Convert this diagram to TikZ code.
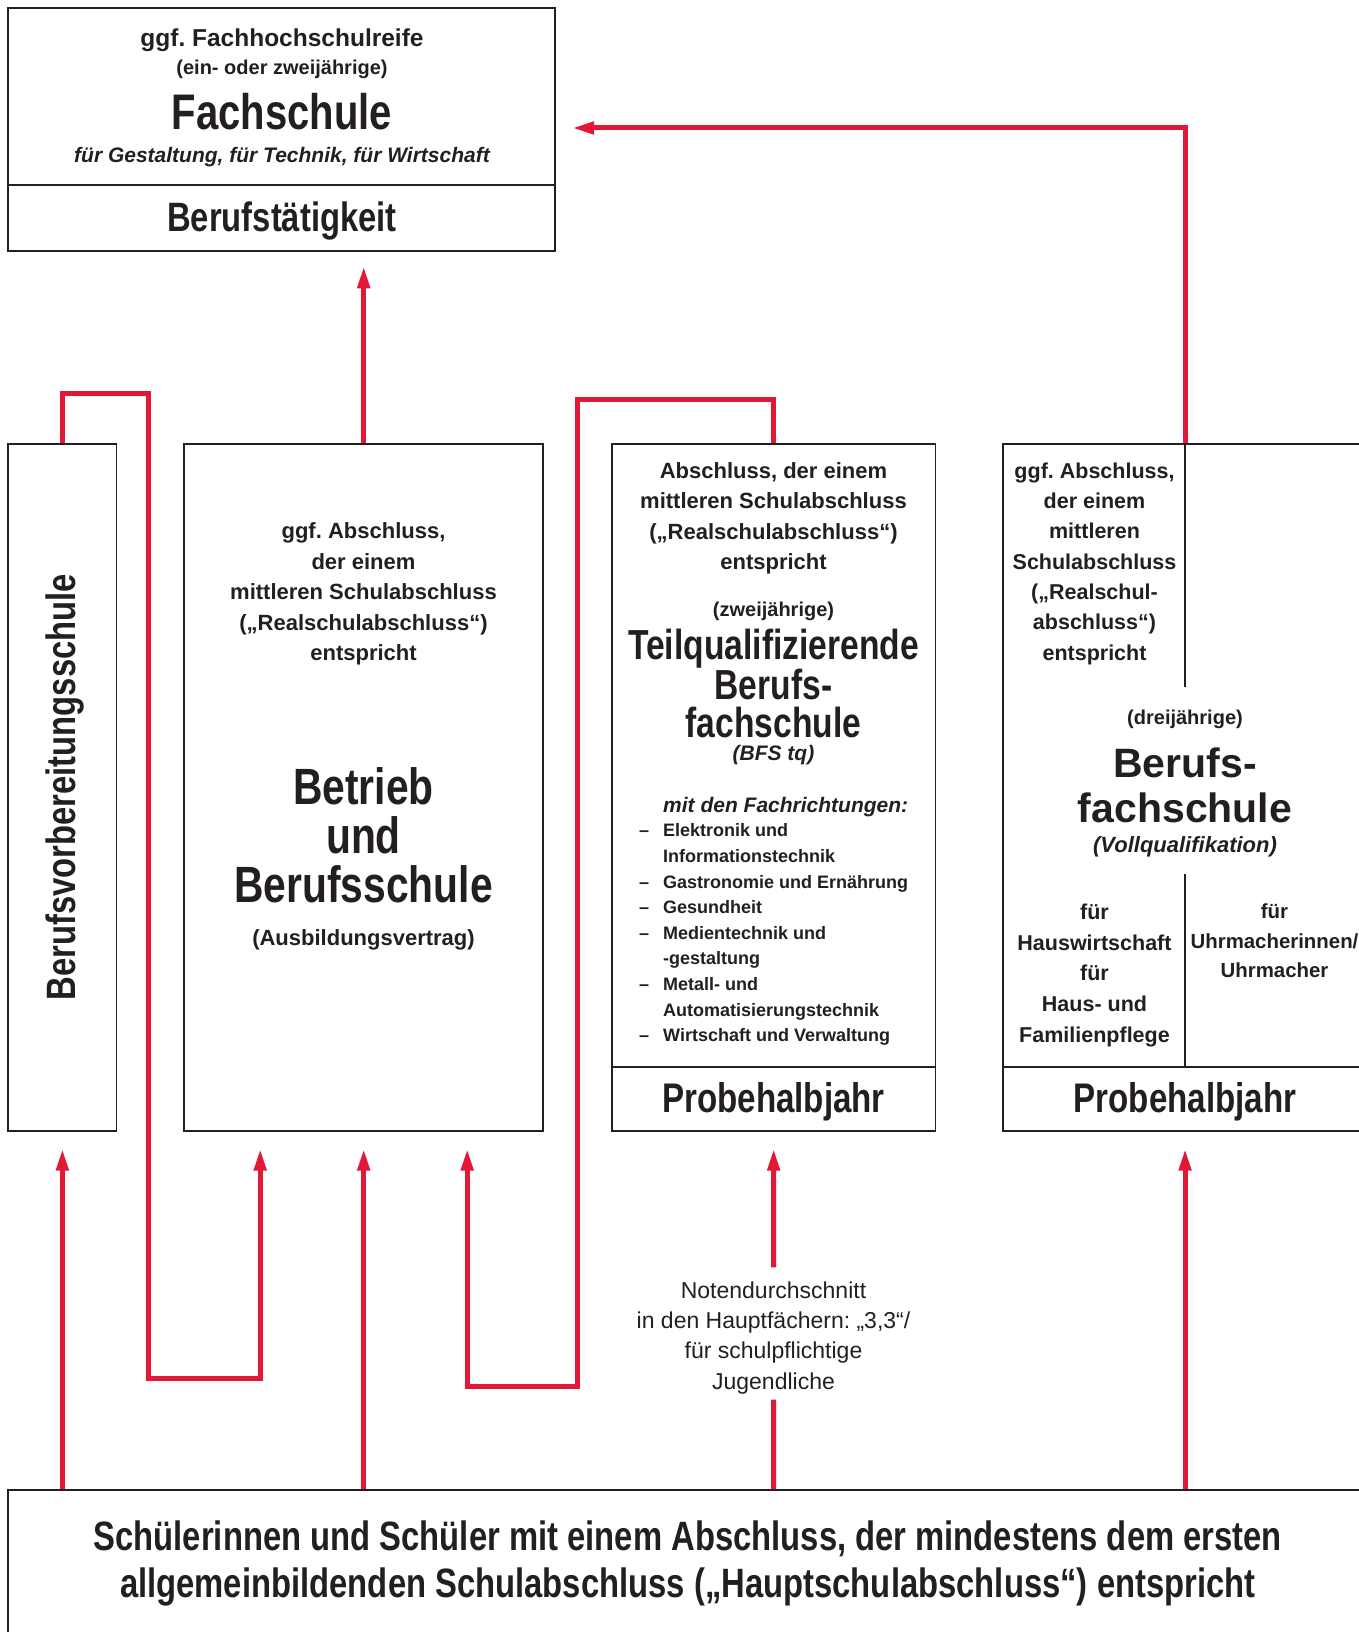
\documentclass[tikz,border=0pt]{standalone}
\usepackage{fontspec}
\setmainfont{Liberation Sans}
\newfontfamily\narrowfont[FakeStretch=0.8]{Liberation Sans}
\usetikzlibrary{arrows.meta}
\definecolor{ink}{RGB}{35,31,32}
\definecolor{signal}{RGB}{226,24,54}
\frenchspacing

\begin{document}
\begin{tikzpicture}
    [x=1pt,y=-1pt,%
      box/.style={draw=ink,line width=1.8pt,inner sep=0pt},%
      rule/.style={draw=ink,line width=1.8pt},%
      txt/.style={align=center,text=ink,inner sep=0pt,font=\bfseries\fontsize{22}{30.4}\selectfont},%
      head/.style 2 args={align=center,text=ink,inner sep=0pt,font=\narrowfont\bfseries\fontsize{#1}{#2}\selectfont},%
      redline/.style={draw=signal,line width=5pt},%
      redarrow/.style={redline,-{Triangle[length=22pt,width=12pt]},shorten >=16.7pt}]
    \useasboundingbox (0,0) rectangle (1359,1632);

    % boxes
    \node[box,minimum width=546.3pt,minimum height=242.5pt] (fs) at (281.45,129.55) {};
    \node[box,minimum width=108.2pt,minimum height=686.8pt] (bvs) at (62.4,787.7) {};
    \node[box,minimum width=359pt,minimum height=686.8pt] (betrieb) at (363.7,787.7) {};
    \node[box,minimum width=323.6pt,minimum height=686.8pt] (tq) at (773.7,787.7) {};
    \node[box,minimum width=363.9pt,minimum height=686.8pt] (bfs) at (1185.05,787.7) {};
    \node[box,minimum width=1358.7pt,minimum height=154.9pt] (pupils) at (687.65,1567.55) {};
    \draw[rule] (fs.west |- 0,185.2) -- (fs.east |- 0,185.2);
    \draw[rule] (tq.west |- 0,1066.6) -- (tq.east |- 0,1066.6);
    \draw[rule] (bfs.west |- 0,1066.6) -- (bfs.east |- 0,1066.6);
    \draw[rule] (bfs.north) -- (bfs |- 0,686.8);
    \draw[rule] (bfs |- 0,874.1) -- (bfs |- 0,1066.6);

    % Fachschule
    \node[txt,font=\bfseries\fontsize{24.5}{29}\selectfont] (fsnote) at (282,40) {ggf. Fachhochschulreife};
    \node[txt,font=\bfseries\fontsize{20}{24}\selectfont] (fsyears) at (282,69.6) {(ein- oder zweijährige)};
    \node[head={50}{50}] (fsname) at (282,111.3) {Fachschule};
    \node[txt,font=\bfseries\itshape\fontsize{21}{25}\selectfont] (fsfields) at (282,157) {für Gestaltung, für Technik, für Wirtschaft};
    \node[head={41}{41}] (job) at (282,220.5) {Berufstätigkeit};

    \node[head={41}{41},rotate=90] (bvsname) at (64.6,787.2) {Berufsvorbereitungsschule};

    % Betrieb und Berufsschule
    \node[txt] (bsnote) at (363.5,594) {ggf. Abschluss,\\der einem\\mittleren Schulabschluss\\(„Realschulabschluss“)\\entspricht};
    \node[head={51}{49}] (bsname) at (363.5,835.6) {Betrieb\\und\\Berufsschule};
    \node[txt] (bscontract) at (363.5,939.6) {(Ausbildungsvertrag)};

    % BFS tq
    \node[txt] (tqnote) at (773.5,518.4) {Abschluss, der einem\\mittleren Schulabschluss\\(„Realschulabschluss“)\\entspricht};
    \node[txt,font=\bfseries\fontsize{20}{24}\selectfont] (tqyears) at (773.5,611.8) {(zweijährige)};
    \node[head={42}{38}] (tqname) at (773.5,683.2) {Teilqualifizierende\\Berufs-\\fachschule};
    \node[txt,font=\bfseries\itshape\fontsize{21}{25}\selectfont] (tqshort) at (773.5,755.5) {(BFS tq)};
    \node[txt,anchor=west,font=\bfseries\itshape\fontsize{21}{25}\selectfont] (tqlisthead) at (663,807.5) {mit den Fachrichtungen:};
    \node[txt,align=left,anchor=west,font=\bfseries\fontsize{18}{25.6}\selectfont] (tqlist) at (639,934.7)
      {\makebox[24pt][l]{–}Elektronik und\\\hspace*{24pt}Informationstechnik\\\makebox[24pt][l]{–}Gastronomie und Ernährung\\\makebox[24pt][l]{–}Gesundheit\\\makebox[24pt][l]{–}Medientechnik und\\\hspace*{24pt}-gestaltung\\\makebox[24pt][l]{–}Metall- und\\\hspace*{24pt}Automatisierungstechnik\\\makebox[24pt][l]{–}Wirtschaft und Verwaltung};
    \node[head={41.4}{41.4}] (tqtrial) at (773.5,1102) {Probehalbjahr};

    % Berufsfachschule
    \node[txt,font=\bfseries\fontsize{21.5}{30.35}\selectfont] (bfsnote) at (1094.5,563.7) {ggf. Abschluss,\\der einem\\mittleren\\Schulabschluss\\(„Realschul-\\abschluss“)\\entspricht};
    \node[txt,font=\bfseries\fontsize{20}{24}\selectfont] (bfsyears) at (1185,719) {(dreijährige)};
    \node[txt,font=\bfseries\fontsize{41}{44.7}\selectfont] (bfsname) at (1185,785.2) {Berufs-\\fachschule};
    \node[txt,font=\bfseries\itshape\fontsize{22}{26}\selectfont] (bfsfull) at (1185,847) {(Vollqualifikation)};
    \node[txt,font=\bfseries\fontsize{21.5}{30.7}\selectfont] (bfshome) at (1094.5,975.2) {für\\Hauswirtschaft\\für\\Haus- und\\Familienpflege};
    \node[txt,font=\bfseries\fontsize{20.4}{29.2}\selectfont] (bfsclock) at (1274.5,940.8) {für\\Uhrmacherinnen/\\Uhrmacher};
    \node[head={41.4}{41.4}] (bfstrial) at (1185,1102) {Probehalbjahr};

    \node[txt,inner ysep=5.5pt,font=\fontsize{23}{30.2}\selectfont] (note) at (773.5,1337.9) {Notendurchschnitt\\in den Hauptfächern: „3,3“/\\für schulpflichtige\\Jugendliche};
    \node[head={41}{46.7}] (pupilstext) at (687.8,1563.5) {Schülerinnen und Schüler mit einem Abschluss, der mindestens dem ersten\\allgemeinbildenden Schulabschluss („Hauptschulabschluss“) entspricht};

    % paths
    \coordinate (bvsturn) at (148.8,393.3);
    \coordinate (bvsback) at (260.2,1378.8);
    \coordinate (tqturn) at (577.5,399.6);
    \coordinate (tqback) at (467.2,1386.1);
    \coordinate (bfsturn) at (1185.2,128);
    \draw[redarrow] (bvs |- pupils.north) -- (bvs.south);
    \draw[redarrow] (bvs.north) |- (bvsturn) |- (bvsback) -- (bvsback |- betrieb.south);
    \draw[redarrow] (betrieb |- pupils.north) -- (betrieb.south);
    \draw[redarrow,shorten >=14.6pt] (betrieb.north) -- (betrieb |- fs.south);
    \draw[redarrow] (tq.north) |- (tqturn) |- (tqback) -- (tqback |- betrieb.south);
    \draw[redline] (tq |- pupils.north) -- (note.south);
    \draw[redarrow,shorten <=8.8pt] (note.north) -- (tq.south);
    \draw[redarrow] (bfs |- pupils.north) -- (bfs.south);
    \draw[redarrow] (bfs.north) |- (fs.east |- bfsturn);
\end{tikzpicture}
\end{document}
